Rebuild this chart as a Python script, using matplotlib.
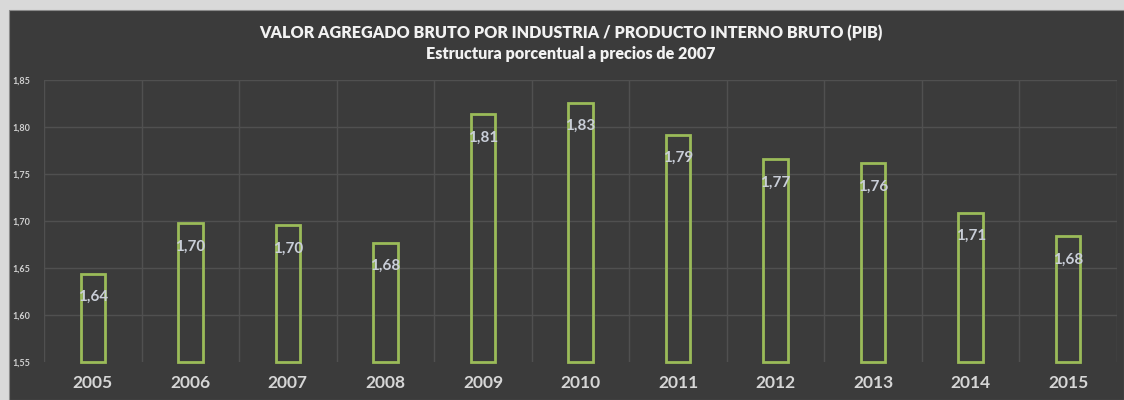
import matplotlib
matplotlib.use("Agg")
import matplotlib.pyplot as plt
from matplotlib.patches import Rectangle
import numpy as np

years = ["2005", "2006", "2007", "2008", "2009", "2010",
         "2011", "2012", "2013", "2014", "2015"]
values = [1.644, 1.698, 1.696, 1.677, 1.814, 1.826,
          1.792, 1.766, 1.762, 1.709, 1.684]
y_ticks = [1.55, 1.60, 1.65, 1.70, 1.75, 1.80, 1.85]
title_lines = ["VALOR AGREGADO BRUTO POR INDUSTRIA / PRODUCTO INTERNO BRUTO (PIB)",
               "Estructura porcentual a precios de 2007"]

BG = "#3b3b3b"
GRID = "#505050"
BAR = "#9bbb59"
LABEL = "#c9ced8"
FONT = ["Lato", "DejaVu Sans"]

fig = plt.figure(figsize=(11.24, 4.0), dpi=100)
fig.patch.set_facecolor("#d9d9d9")
fig.add_artist(Rectangle((9 / 1124, 0), 1 - 9 / 1124, 1 - 10 / 400,
                         transform=fig.transFigure, facecolor=BG,
                         edgecolor="#8a8a8a", linewidth=0.8, zorder=0))

ax = fig.add_axes([44 / 1124, 1 - 362 / 400, (1117 - 44) / 1124, (362 - 80) / 400])
ax.set_facecolor("none")
ax.set_xlim(-0.5, len(years) - 0.5)
ax.set_ylim(y_ticks[0], y_ticks[-1])

x = np.arange(len(years))
base = y_ticks[0]
bars = ax.bar(x, [v - base for v in values], bottom=base, width=0.25,
              facecolor="none", edgecolor=BAR, linewidth=2.0, zorder=3)
for b in bars:
    b.set_clip_on(False)

for xi, v in zip(x, values):
    ax.annotate(f"{v:.2f}".replace(".", ","), (xi, v), xytext=(0, -17),
                textcoords="offset points", ha="center", va="center",
                color=LABEL, fontsize=11, fontweight="bold", family=FONT, zorder=4)

for yt in y_ticks[1:]:
    ax.axhline(yt, color=GRID, linewidth=1.0, zorder=1)
for b in np.arange(-0.5, len(years), 1.0):
    ax.axvline(b, color=GRID, linewidth=1.0, zorder=1)

for s in ax.spines.values():
    s.set_visible(False)
ax.set_xticks(x)
ax.set_xticklabels(years, color="#d6d6d6", fontsize=12.5, fontweight="bold", family=FONT)
ax.set_yticks(y_ticks)
ax.set_yticklabels([f"{t:.2f}".replace(".", ",") for t in y_ticks],
                   color="#d0d0d0", fontsize=6.5, fontweight="bold", family=FONT)
ax.tick_params(axis="both", length=0)
ax.tick_params(axis="x", pad=9)
ax.tick_params(axis="y", pad=10)

fig.text(0.5075, 1 - 33 / 400, title_lines[0], ha="center", va="center",
         color="#f2f2f2", fontsize=11.6, fontweight="heavy", family=FONT)
fig.text(0.5075, 1 - 54 / 400, title_lines[1], ha="center", va="center",
         color="#f2f2f2", fontsize=11.6, fontweight="heavy", family=FONT)

fig.savefig("out.png", dpi=100, facecolor=fig.get_facecolor())
